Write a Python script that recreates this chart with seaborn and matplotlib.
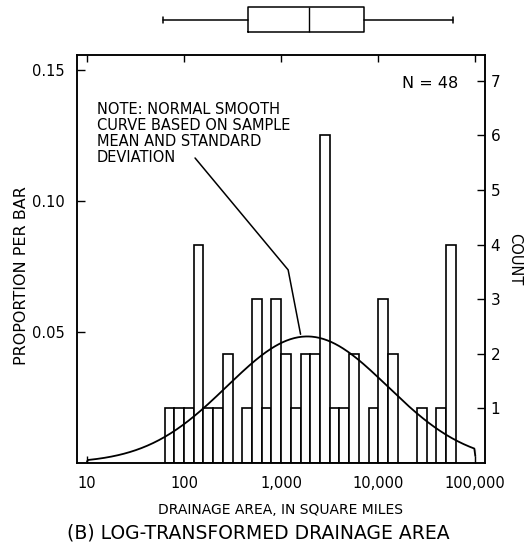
import numpy as np
import pandas as pd
import matplotlib
matplotlib.use("Agg")
import matplotlib.pyplot as plt
import seaborn as sns

# Log10 drainage area, bins of 0.1 log units from 10^1.8 to 10^4.8
bin_edges = [round(1.8 + 0.1 * i, 2) for i in range(31)]
bin_counts = [1, 1, 1, 4, 1, 1, 2, 0, 1, 3,
              1, 3, 2, 1, 2, 2, 6, 1, 1, 2,
              0, 1, 3, 2, 0, 0, 1, 0, 1, 4]
n_sites = 48

# Box-plot summary (log10 units): lower whisker, Q1, median, Q3, upper whisker
box_low, box_q1, box_med, box_q3, box_high = 1.78, 2.66, 3.29, 3.85, 4.77

tick_pos = [1, 2, 3, 4, 5]
tick_labels = ["10", "100", "1,000", "10,000", "100,000"]
count_ticks = [1, 2, 3, 4, 5, 6, 7]
prop_ticks = [0.05, 0.10, 0.15]

sns.set_style("ticks")
plt.rcParams["font.family"] = ["DejaVu Sans"]
plt.rcParams["axes.linewidth"] = 1.1
for key in ["text.color", "axes.labelcolor", "xtick.color", "ytick.color",
            "axes.edgecolor"]:
    plt.rcParams[key] = "black"

W, H = 530, 550
fig = plt.figure(figsize=(W / 100, H / 100), dpi=100)

L, R, T, B = 77, 485, 55, 463
ax = fig.add_axes([L / W, 1 - B / H, (R - L) / W, (B - T) / H])
xlim = (0.897, 5.10)
ylim = (0, 0.1557)

edges = np.array(bin_edges)
mids = (edges[:-1] + edges[1:]) / 2
hist_df = pd.DataFrame({"log_area": mids, "count": bin_counts})
sns.histplot(data=hist_df, x="log_area", weights="count", bins=bin_edges,
             stat="proportion", ax=ax, facecolor="white", edgecolor="black",
             linewidth=1.2, alpha=1)

# Normal curve from the sample mean and standard deviation
vals = np.repeat(mids, bin_counts)
mu, sd = vals.mean(), vals.std(ddof=1)
binw = 0.1
xs = np.linspace(1, 5, 400)
ys = binw * np.exp(-0.5 * ((xs - mu) / sd) ** 2) / (sd * np.sqrt(2 * np.pi))
xs = np.concatenate([[1], xs, [5]])
ys = np.concatenate([[0], ys, [0]])
sns.lineplot(x=xs, y=ys, ax=ax, color="black", linewidth=1.3, sort=False)

ax.set_xlim(*xlim)
ax.set_ylim(*ylim)
ax.set_xticks(tick_pos)
ax.set_xticklabels(tick_labels)
ax.set_yticks(prop_ticks)
ax.set_yticklabels([f"{t:.2f}" for t in prop_ticks])
ax.tick_params(axis="x", direction="in", top=True, length=5, width=1,
               labelsize=10.5, pad=9)
ax.tick_params(axis="y", direction="in", length=6, width=1,
               labelsize=10.5, pad=9)
ax.set_xlabel("DRAINAGE AREA, IN SQUARE MILES", fontsize=10, labelpad=9)
ax.set_ylabel("PROPORTION PER BAR", fontsize=11.5)
ax.yaxis.set_label_coords(-0.118, 0.46)
for s in ax.spines.values():
    s.set_visible(True)
    s.set_color("black")

ax2 = ax.twinx()
ax2.set_ylim(0, ylim[1] * n_sites)
ax2.set_yticks(count_ticks)
ax2.tick_params(axis="y", direction="in", length=6, width=1,
                labelsize=11, pad=4)
ax2.set_ylabel("COUNT", fontsize=10.5, rotation=270, labelpad=16)

ax.text(0.934, 0.93, "N = 48", transform=ax.transAxes, ha="right",
        va="center", fontsize=11.5)
note = "NOTE: NORMAL SMOOTH\nCURVE BASED ON SAMPLE\nMEAN AND STANDARD\nDEVIATION"
ax.text(0.049, 0.885, note, transform=ax.transAxes, ha="left", va="top",
        fontsize=10.5, linespacing=1.08)

# Leader line from the note to the curve near its peak
px = 3.2
py = binw * np.exp(-0.5 * ((px - mu) / sd) ** 2) / (sd * np.sqrt(2 * np.pi))
ax.plot([2.113, 3.072, px], [0.1164, 0.0737, py + 0.001],
        color="black", linewidth=1.1)

# Box plot above the histogram
axb = fig.add_axes([L / W, 1 - 40 / H, (R - L) / W, 40 / H])
axb.bxp([{"whislo": box_low, "q1": box_q1, "med": box_med, "q3": box_q3,
          "whishi": box_high, "fliers": []}],
        positions=[0.51], widths=0.62, orientation="horizontal",
        showfliers=False, capwidths=0.15,
        boxprops=dict(color="black", linewidth=1.1),
        medianprops=dict(color="black", linewidth=1.0),
        whiskerprops=dict(color="black", linewidth=1.1),
        capprops=dict(color="black", linewidth=1.1))
axb.set_xlim(*xlim)
axb.set_ylim(0, 1)
axb.axis("off")

fig.text(258 / W, 1 - 533 / H, "(B) LOG-TRANSFORMED DRAINAGE AREA",
         ha="center", va="center", fontsize=13.5)

fig.savefig("out.png", dpi=100, facecolor="white")
